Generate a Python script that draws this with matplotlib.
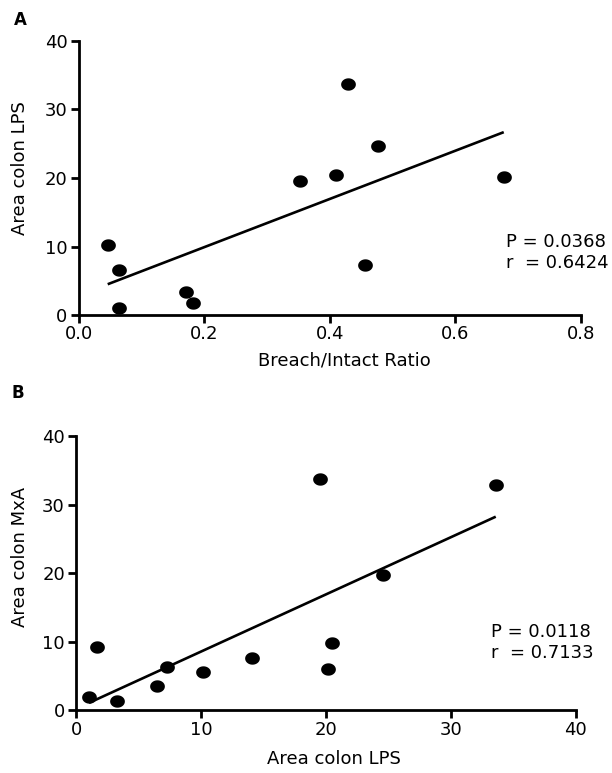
import numpy as np
import matplotlib
matplotlib.use("Agg")
import matplotlib.pyplot as plt
from matplotlib.path import Path

# ---- Data ----
# Panel A: Breach/Intact Ratio vs Area colon LPS
ratio_a = [0.0465, 0.064, 0.064, 0.171, 0.182, 0.4286, 0.477, 0.410, 0.352, 0.456, 0.677]
lps_a = [10.2, 6.57, 1.0, 3.3, 1.7, 33.7, 24.6, 20.5, 19.56, 7.25, 20.2]
stats_a = ["P = 0.0368", "r  = 0.6424"]

# Panel B: Area colon LPS vs Area colon MxA
lps_b = [1.04, 1.65, 3.31, 6.45, 7.28, 10.2, 14.1, 19.5, 24.56, 20.48, 20.2, 33.6]
mxa_b = [1.9, 9.18, 1.4, 3.6, 6.3, 5.6, 7.6, 33.8, 19.8, 9.86, 6.07, 32.9]
stats_b = ["P = 0.0118", "r  = 0.7133"]

xticks_a = [0.0, 0.2, 0.4, 0.6, 0.8]
xticklabels_a = ["0.0", "0.2", "0.4", "0.6", "0.8"]
yticks = [0, 10, 20, 30, 40]
xticks_b = [0, 10, 20, 30, 40]

plt.rcParams['font.family'] = ['DejaVu Sans']
FS = 13

W, H = 612, 773
fig = plt.figure(figsize=(W / 100, H / 100), dpi=100)

# ellipse marker (slightly wider than tall, as in the reference)
t = np.linspace(0, 2 * np.pi, 60)
ell = Path(np.column_stack([np.cos(t), 0.84 * np.sin(t)]), closed=True)


def px_axes(left, right, top, bottom):
    return fig.add_axes([left / W, 1 - bottom / H, (right - left) / W, (bottom - top) / H])


def style(ax):
    for s in ['top', 'right']:
        ax.spines[s].set_visible(False)
    for s in ['left', 'bottom']:
        ax.spines[s].set_linewidth(2.0)
        ax.spines[s].set_color('black')
    ax.tick_params(axis='both', which='major', length=6, width=2.0, labelsize=FS, colors='black')
    ax.tick_params(axis='x', pad=1.5)
    ax.tick_params(axis='y', pad=2)


def panel(ax, x, y, xlim, ylim, xticks, xticklabels, xlabel, ylabel, xlab_xy, ylab_xy, stats, stats_px):
    x = np.asarray(x); y = np.asarray(y)
    ax.scatter(x, y, s=10.6 ** 2, marker=ell, color='black', zorder=3, clip_on=False, linewidths=0)
    k, b = np.polyfit(x, y, 1)
    xx = np.array([x.min(), x.max()])
    ax.plot(xx, k * xx + b, color='black', lw=1.9, solid_capstyle='butt', zorder=2)
    ax.set_xlim(*xlim); ax.set_ylim(*ylim)
    ax.set_xticks(xticks); ax.set_xticklabels(xticklabels)
    ax.set_yticks(yticks)
    ax.set_xlabel(xlabel, fontsize=FS, va='center')
    ax.set_ylabel(ylabel, fontsize=FS, va='center')
    ax.xaxis.set_label_coords(*xlab_xy)
    ax.yaxis.set_label_coords(*ylab_xy)
    style(ax)
    (sx, sy1), sy2 = stats_px
    fig.text(sx / W, 1 - sy1 / H, stats[0], fontsize=FS, va='baseline', ha='left')
    fig.text(sx / W, 1 - sy2 / H, stats[1], fontsize=FS, va='baseline', ha='left')


axA = px_axes(78.5, 581, 41, 315)
panel(axA, ratio_a, lps_a, (0, 0.8), (0, 40), xticks_a, xticklabels_a,
      "Breach/Intact Ratio", "Area colon LPS", (0.530, -0.166), (-0.116, 0.536),
      stats_a, ((506, 247), 268))

axB = px_axes(76, 575.7, 436, 710.3)
panel(axB, lps_b, mxa_b, (0, 40), (0, 40), xticks_b, [str(v) for v in xticks_b],
      "Area colon LPS", "Area colon MxA", (0.517, -0.179), (-0.112, 0.559),
      stats_b, ((491, 637), 658))

fig.text(20 / W, 1 - 20 / H, "A", fontsize=12, fontweight='bold', ha='center', va='center')
fig.text(17.5 / W, 1 - 392.5 / H, "B", fontsize=12, fontweight='bold', ha='center', va='center')

fig.savefig("out.png", dpi=100, facecolor='white')
